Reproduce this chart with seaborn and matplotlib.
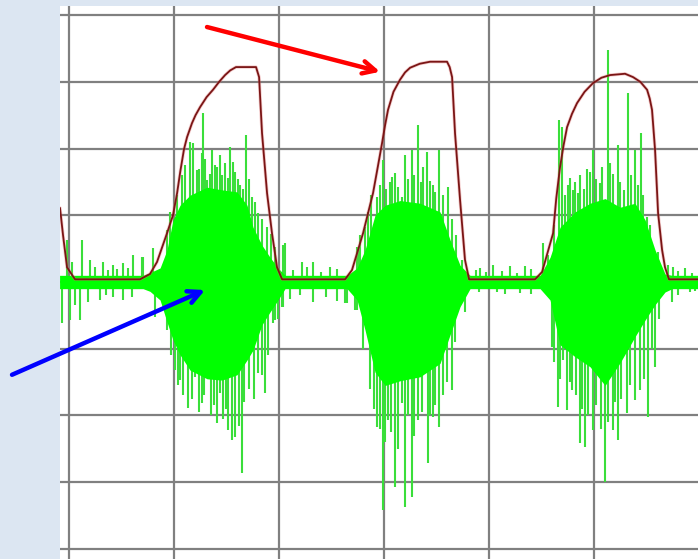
import numpy as np
import pandas as pd
import seaborn as sns
import matplotlib
matplotlib.use("Agg")
import matplotlib.pyplot as plt

# ---------------- data (time in ms, amplitude in grid units) ----------------
# red envelope
env_t = [-8.6, -5.7, -1.9, 5.7, 67.6, 77.1, 83.8, 93.3, 99.0, 102.9, 106.0, 109.5, 112.4,
         117.1, 120.5, 124.8, 131.0, 137.1, 143.0, 148.6, 153.5, 159.0, 178.1, 181.0,
         183.8, 188.6, 193.3, 198.1, 202.9, 262.9, 269.5, 280.0, 289.5, 294.0, 298.1,
         301.0, 303.8, 309.0, 315.2, 320.0, 324.8, 334.0, 343.8, 360.0, 362.5, 364.8,
         367.6, 372.4, 377.1, 381.0, 443.8, 450.5, 461.0, 464.0, 467.6, 471.0, 474.3,
         479.0, 483.8, 491.0, 499.0, 507.0, 515.2, 529.5, 537.1, 544.0, 550.5, 553.0,
         555.2, 558.1, 561.0, 564.8, 567.6, 571.4, 599.0]
env_v = [1.11, 0.70, 0.22, 0.04, 0.04, 0.12, 0.30, 0.73, 1.00, 1.33, 1.66, 1.99, 2.17,
         2.38, 2.50, 2.62, 2.77, 2.88, 3.00, 3.10, 3.17, 3.22, 3.22, 3.07,
         2.23, 1.33, 0.73, 0.22, 0.04, 0.04, 0.18, 0.73, 1.33, 1.72, 2.08,
         2.35, 2.58, 2.85, 3.03, 3.14, 3.21, 3.27, 3.30, 3.30, 3.22, 3.07,
         2.23, 1.23, 0.33, 0.04, 0.04, 0.15, 0.73, 1.25, 1.72, 2.05, 2.32,
         2.52, 2.68, 2.85, 2.98, 3.06, 3.10, 3.12, 3.07, 3.00, 2.88, 2.75,
         2.58, 1.98, 1.03, 0.48, 0.22, 0.04, 0.04]

# dense green core of the signal (upper / lower outline)
core_t = [-9, 70.5, 77.1, 86.7, 93.3, 99.0, 105.7, 115.2, 131.4, 145.7, 160.0, 169.5,
          175.2, 183.8, 191.4, 199.0, 205.7, 264.8, 274.3, 281.9, 291.4, 301.0, 315.2,
          334.3, 353.3, 362.9, 372.4, 381.9, 448.6, 458.1, 467.6, 481.9, 496.2, 510.5,
          524.8, 539.0, 548.6, 558.1, 567.6, 574.3, 600]
core_hi = [0.10, 0.10, 0.14, 0.21, 0.48, 0.93, 1.15, 1.30, 1.42, 1.38, 1.35, 1.15,
           0.82, 0.55, 0.37, 0.21, 0.10, 0.10, 0.21, 0.48, 1.00, 1.15, 1.22,
           1.18, 1.05, 0.63, 0.25, 0.10, 0.10, 0.37, 0.82, 1.05, 1.18, 1.25,
           1.12, 1.18, 0.93, 0.48, 0.12, 0.10, 0.10]
core_lo = [-0.10, -0.10, -0.14, -0.27, -0.60, -0.87, -1.09, -1.32, -1.45, -1.47, -1.39, -1.17,
           -1.02, -0.64, -0.45, -0.27, -0.10, -0.10, -0.27, -0.72, -1.35, -1.55, -1.48,
           -1.42, -1.22, -0.79, -0.37, -0.10, -0.10, -0.27, -0.94, -1.12, -1.27, -1.55,
           -1.21, -0.82, -0.57, -0.34, -0.15, -0.10, -0.10]

# positive spikes
up_t = [-1.9, 3.0, 12.4, 20.0, 25.0, 32.4, 37.0, 41.9, 46.0, 51.4, 56.0, 61.0, 69.5,
        70.5, 80.0, 93.3, 96.0, 103.0, 107.6, 110.0, 115.2, 118.1, 121.9, 124.0, 126.7,
        127.6, 129.5, 131.4, 134.0, 136.2, 139.0, 141.0, 143.8, 146.0, 148.6, 151.4,
        153.3, 156.0, 158.1, 160.5, 162.9, 166.0, 168.6, 171.0, 174.3, 177.0, 180.0,
        184.0, 188.6, 192.0, 196.2, 203.8, 205.7, 213.0, 221.9, 227.0, 232.4, 240.0,
        248.6, 255.0, 274.3, 275.2, 277.0, 281.9, 285.0, 288.0, 293.3, 296.0, 299.0,
        302.0, 305.7, 308.0, 310.5, 313.0, 317.1, 320.0, 323.0, 326.7, 329.0, 332.4,
        335.0, 337.1, 341.0, 344.0, 346.7, 349.0, 352.4, 356.0, 361.0, 365.0, 369.0,
        374.3, 388.0, 391.4, 397.0, 403.8, 412.0, 420.0, 427.0, 434.3, 440.0, 451.4,
        456.0, 462.0, 466.7, 469.5, 472.0, 475.0, 477.1, 480.0, 482.0, 484.8, 487.0,
        490.0, 493.0, 496.2, 499.0, 502.0, 505.7, 508.0, 513.3, 515.2, 518.0, 522.9,
        525.0, 528.6, 532.4, 535.0, 539.0, 542.0, 544.8, 547.0, 550.5, 553.0, 561.0,
        570.5, 575.2, 580.0, 586.7, 593.0]
up_v = [0.63, 0.30, 0.63, 0.33, 0.22, 0.30, 0.18, 0.25, 0.20, 0.28, 0.21, 0.40, 0.37,
        0.37, 0.51, 0.78, 1.05, 1.30, 1.60, 1.75, 2.10, 2.08, 1.68, 1.70, 1.93,
        2.53, 1.85, 1.53, 1.62, 1.98, 1.75, 1.72, 1.90, 1.60, 1.78, 1.56,
        2.02, 1.80, 1.65, 1.55, 1.45, 1.40, 2.20, 1.55, 1.27, 1.20, 1.03,
        0.95, 0.82, 0.72, 0.52, 0.55, 0.58, 0.18, 0.30, 0.22, 0.30, 0.15,
        0.22, 0.20, 0.52, 0.52, 0.70, 0.82, 1.05, 1.30, 1.27, 1.45, 1.83,
        1.40, 1.50, 1.58, 1.63, 1.42, 1.27, 1.90, 1.55, 1.98, 1.60, 2.35,
        1.50, 1.72, 1.95, 1.52, 1.45, 1.35, 1.98, 1.30, 1.42, 0.95, 0.70,
        0.33, 0.18, 0.21, 0.15, 0.25, 0.17, 0.24, 0.14, 0.24, 0.20, 0.58,
        0.40, 0.85, 2.43, 2.32, 1.30, 1.45, 1.56, 1.38, 1.50, 1.33, 1.60,
        1.40, 1.70, 1.65, 1.98, 1.55, 1.48, 1.72, 3.48, 1.78, 1.62, 2.05,
        1.50, 1.38, 2.83, 1.60, 1.98, 1.45, 2.23, 1.30, 0.97, 0.85, 0.45,
        0.25, 0.22, 0.16, 0.21, 0.14]

# negative spikes
dn_t = [-6.7, 1.0, 6.0, 10.5, 18.0, 29.5, 35.0, 41.9, 51.4, 60.0, 81.9, 93.3, 97.0,
        101.0, 103.5, 105.7, 109.0, 113.3, 117.0, 120.0, 123.5, 126.7, 129.0, 132.4,
        135.0, 138.5, 141.0, 143.8, 147.0, 149.5, 151.4, 155.2, 158.1, 162.0, 164.8,
        167.0, 171.0, 176.5, 180.0, 184.0, 186.7, 189.5, 194.3, 196.2, 199.0, 202.9,
        203.8, 210.0, 220.0, 232.4, 245.0, 255.0, 262.9, 264.8, 272.4, 274.3, 280.0,
        287.0, 290.0, 293.3, 296.0, 299.0, 301.0, 303.8, 307.0, 310.5, 313.0, 317.1,
        320.0, 323.0, 326.7, 329.0, 332.4, 336.0, 341.9, 344.0, 346.7, 349.0, 352.4,
        356.0, 360.0, 364.8, 368.0, 377.0, 381.9, 390.0, 407.6, 415.0, 429.5, 440.0,
        460.0, 462.0, 465.7, 468.0, 470.5, 474.3, 477.0, 479.0, 483.0, 486.7, 489.0,
        491.4, 494.0, 499.0, 502.0, 507.0, 510.5, 513.0, 518.1, 520.0, 522.9, 526.0,
        531.4, 534.0, 539.0, 543.8, 548.0, 551.4, 555.0, 558.1, 562.0, 574.3, 580.0,
        591.4, 596.0]
dn_v = [-0.61, -0.57, -0.35, -0.57, -0.30, -0.27, -0.20, -0.22, -0.27, -0.22, -0.52, -0.72, -1.10,
        -1.32, -1.55, -1.47, -1.70, -1.89, -1.75, -1.42, -1.95, -1.81, -1.70, -1.42,
        -2.00, -1.85, -2.11, -1.66, -2.05, -1.90, -2.22, -2.37, -2.32, -2.15, -2.86,
        -1.80, -1.60, -1.75, -1.36, -1.40, -1.66, -1.10, -0.61, -0.57, -0.55, -0.37,
        -0.37, -0.25, -0.20, -0.30, -0.22, -0.28, -0.31, -0.31, -0.42, -0.42, -1.00,
        -1.60, -1.90, -2.17, -2.20, -3.42, -2.40, -2.07, -2.25, -3.07, -2.50, -1.81,
        -3.37, -2.00, -3.22, -2.30, -2.07, -1.95, -2.71, -2.00, -2.02, -1.85, -2.17,
        -1.70, -1.50, -1.62, -0.90, -0.45, -0.07, -0.15, -0.15, -0.18, -0.16, -0.18,
        -0.97, -1.20, -1.87, -1.45, -1.17, -1.92, -1.50, -1.62, -1.70, -2.41, -1.90,
        -2.47, -2.00, -2.22, -1.85, -2.20, -3.00, -2.10, -2.22, -1.80, -2.37, -1.75,
        -1.96, -1.55, -1.77, -1.62, -1.45, -2.02, -1.00, -1.27, -0.55, -0.30, -0.20,
        -0.15, -0.14]

grid_x = [0, 100, 200, 300, 400, 500]
grid_y = [-4, -3, -2, -1, 0, 1, 2, 3, 4]

# ---------------- figure ----------------
sns.set_style("white")
fig = plt.figure(figsize=(6.98, 5.59), dpi=100)
fig.patch.set_facecolor("#dce6f2")
ax = fig.add_axes([60 / 698, 0, 638 / 698, 553 / 559])
ax.set_facecolor("white")
ax.set_xlim(-8.6, 599.0)
ax.set_ylim(-4.15, 4.135)
for s in ax.spines.values():
    s.set_visible(False)
ax.set_xticks(grid_x)
ax.set_yticks(grid_y)
ax.tick_params(length=0, labelbottom=False, labelleft=False)
ax.grid(True, color="#808080", lw=1.6, zorder=0)
ax.set_axisbelow(True)

green = "#00ff00"
ax.vlines(up_t, 0, up_v, color="#3ade3a", lw=1.5, zorder=1.8)
ax.vlines(dn_t, 0, dn_v, color="#3ade3a", lw=1.5, zorder=1.8)
ax.fill_between(core_t, core_lo, core_hi, color=green, lw=0, zorder=2)

env = pd.DataFrame({"t": env_t, "v": env_v})
sns.lineplot(data=env, x="t", y="v", ax=ax, color="#e07070", lw=2.4, alpha=0.35,
             zorder=3, estimator=None, sort=False)
sns.lineplot(data=env, x="t", y="v", ax=ax, color="#7a1515", lw=1.3,
             zorder=4, estimator=None, sort=False)
ax.set_xlabel("")
ax.set_ylabel("")

# arrows
ax.annotate("", xy=(296.2, 3.15), xytext=(131.4, 3.82),
            arrowprops=dict(arrowstyle="->,head_length=0.9,head_width=0.45",
                            color="#ff0000", lw=3.2, shrinkA=0, shrinkB=0),
            annotation_clip=False, zorder=6)
ax.annotate("", xy=(129.5, -0.12), xytext=(-54.3, -1.39),
            arrowprops=dict(arrowstyle="->,head_length=0.9,head_width=0.45",
                            color="#0000ff", lw=3.2, shrinkA=0, shrinkB=0),
            annotation_clip=False, zorder=6)

fig.savefig("out.png", dpi=100, facecolor=fig.get_facecolor())
